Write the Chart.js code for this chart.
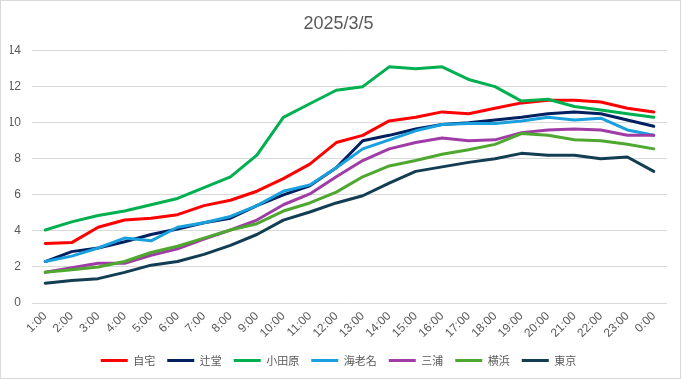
<!DOCTYPE html>
<html><head><meta charset="utf-8">
<script src="https://cdn.jsdelivr.net/npm/chart.js@4/dist/chart.umd.min.js"></script>
<style>
html,body{margin:0;padding:0;background:#fff;}
#wrap{position:absolute;left:0;top:0;width:681px;height:379px;box-sizing:border-box;border:1px solid #d9d9d9;background:#fff;}
canvas{display:block;}
</style></head>
<body><div id="wrap"><canvas id="c" width="679" height="377"></canvas></div>
<script>
const title = "2025/3/5";
const categories = ["1:00","2:00","3:00","4:00","5:00","6:00","7:00","8:00","9:00","10:00","11:00","12:00","13:00","14:00","15:00","16:00","17:00","18:00","19:00","20:00","21:00","22:00","23:00","0:00"];
const seriesNames = ["自宅","辻堂","小田原","海老名","三浦","横浜","東京"];
const jitaku  = [3.3, 3.35, 4.2, 4.6, 4.7, 4.9, 5.4, 5.7, 6.2, 6.9, 7.7, 8.9, 9.3, 10.1, 10.3, 10.6, 10.5, 10.8, 11.1, 11.25, 11.25, 11.15, 10.8, 10.6];
const tsujido = [2.3, 2.85, 3.05, 3.4, 3.8, 4.1, 4.45, 4.7, 5.4, 6.0, 6.5, 7.5, 9.0, 9.3, 9.65, 9.9, 10.0, 10.15, 10.3, 10.5, 10.6, 10.5, 10.15, 9.8];
const odawara = [4.05, 4.5, 4.85, 5.1, 5.45, 5.8, 6.4, 7.0, 8.2, 10.3, 11.05, 11.8, 12.0, 13.1, 13.0, 13.1, 12.4, 12.0, 11.2, 11.3, 10.9, 10.7, 10.5, 10.3];
const ebina   = [2.3, 2.6, 3.05, 3.6, 3.45, 4.2, 4.45, 4.8, 5.4, 6.2, 6.55, 7.5, 8.55, 9.05, 9.55, 9.9, 9.95, 9.95, 10.1, 10.3, 10.15, 10.25, 9.6, 9.3];
const miura   = [1.7, 1.95, 2.2, 2.2, 2.65, 3.0, 3.55, 4.05, 4.6, 5.45, 6.05, 7.0, 7.9, 8.55, 8.9, 9.15, 9.0, 9.05, 9.45, 9.6, 9.65, 9.6, 9.3, 9.3];
const yokohama= [1.7, 1.85, 2.0, 2.3, 2.8, 3.15, 3.6, 4.05, 4.4, 5.1, 5.55, 6.15, 7.0, 7.6, 7.9, 8.25, 8.5, 8.8, 9.4, 9.3, 9.05, 9.0, 8.8, 8.55];
const tokyo   = [1.1, 1.25, 1.35, 1.7, 2.1, 2.3, 2.7, 3.2, 3.8, 4.6, 5.05, 5.55, 5.95, 6.65, 7.3, 7.55, 7.8, 8.0, 8.3, 8.2, 8.2, 8.0, 8.1, 7.3];
const yTicks = [0, 2, 4, 6, 8, 10, 12, 14];

const seriesValues = [jitaku, tsujido, odawara, ebina, miura, yokohama, tokyo];
const colors = ["#ff0000","#002060","#00b050","#1aa0de","#a03ca6","#4ea72e","#123d52"];

const datasets = seriesNames.map((n, i) => ({
  label: n,
  data: seriesValues[i],
  borderColor: colors[i],
  backgroundColor: colors[i],
  borderWidth: 3,
  pointRadius: 0,
  pointHoverRadius: 0,
  tension: 0,
  fill: false,
  order: seriesNames.length - i,
  borderJoinStyle: 'round',
  borderCapStyle: 'round'
}));

const txt = "#595959";
new Chart(document.getElementById('c'), {
  type: 'line',
  data: { labels: categories, datasets },
  options: {
    responsive: false,
    animation: false,
    devicePixelRatio: 1,
    layout: { padding: { left: 9, right: 13, top: 0, bottom: 2 } },
    plugins: {
      title: { display: true, text: title, color: txt,
        font: { family: "'Liberation Sans', Arial, sans-serif", size: 18, weight: 'normal' },
        padding: { top: 12, bottom: 16 } },
      legend: { position: 'bottom',
        labels: { usePointStyle: true, pointStyle: 'line', pointStyleWidth: 27,
          color: txt, padding: 12,
          font: { family: "'Noto Sans CJK JP', sans-serif", size: 11 },
          sort: (a, b) => a.datasetIndex - b.datasetIndex } },
      tooltip: { enabled: false }
    },
    scales: {
      x: {
        offset: true,
        grid: { display: false, drawTicks: false },
        border: { display: false },
        ticks: { color: txt, minRotation: 45, maxRotation: 45, autoSkip: false, padding: 6,
          font: { family: "'Liberation Sans', Arial, sans-serif", size: 12 } },
        afterFit: s => { s.height = 40; }
      },
      y: {
        min: 0, max: 14,
        afterBuildTicks: s => { s.ticks = yTicks.map(v => ({ value: v })); },
        grid: { color: '#d9d9d9', lineWidth: 1, drawTicks: false },
        border: { display: false },
        ticks: { color: txt, padding: 11,
          font: { family: "'Liberation Sans', Arial, sans-serif", size: 12 } },
        afterFit: s => { s.width = 22; }
      }
    }
  }
});
</script></body></html>
